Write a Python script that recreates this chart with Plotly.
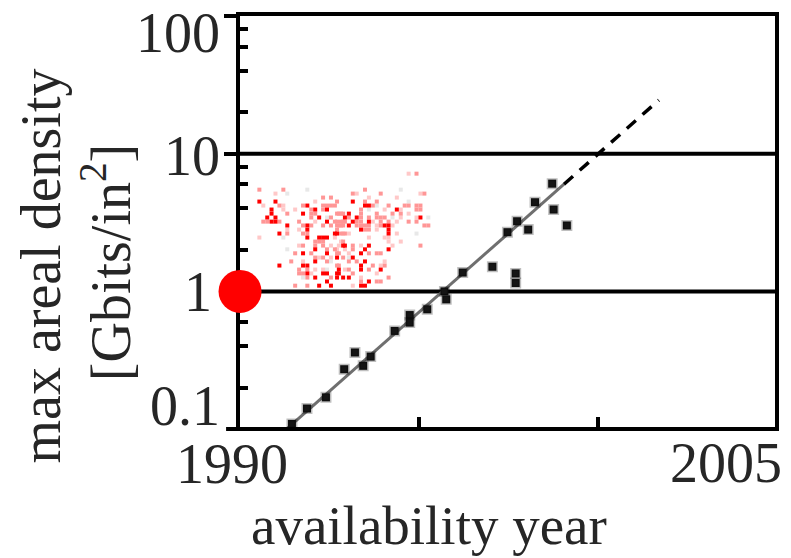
import plotly.graph_objects as go

# ---------------- data ----------------
# black measured points: availability year, max areal density [Gbits/in^2]
pt_years = [1991.45, 1991.87, 1992.40, 1992.91, 1993.21, 1993.44, 1993.65, 1994.32,
            1994.74, 1994.74, 1995.23, 1995.71, 1995.76, 1996.22, 1997.05, 1997.70,
            1997.70, 1997.47, 1997.74, 1998.05, 1998.24, 1998.72, 1998.76, 1999.13]
pt_density = [0.109, 0.141, 0.170, 0.272, 0.36, 0.288, 0.336, 0.516,
              0.673, 0.593, 0.741, 1.0, 0.875, 1.37, 1.51, 1.35,
              1.15, 2.69, 3.23, 2.81, 4.44, 6.06, 3.93, 3.01]

# trend line (solid part) and its extrapolation (dashed part)
trend_years = [1991.30, 1999.05]
trend_density = [0.1, 6.0]
extrap_years = [1999.05, 2001.70]
extrap_density = [6.0, 24.5]

# big red dot
dot_year = [1990.0]
dot_density = [1.0]

# red speckle cloud, by shade: [year, density]
cloud_red = [
    [1990.54, 4.49], [1990.99, 4.49], [1991.88, 4.20], [1990.88, 3.93], [1992.10, 3.93],
    [1992.43, 3.93], [1990.88, 3.67], [1991.76, 3.67], [1990.76, 3.44], [1990.99, 3.44],
    [1992.21, 3.44], [1990.88, 3.21], [1990.99, 3.21], [1992.43, 3.21], [1991.32, 3.01],
    [1991.88, 3.01], [1991.88, 2.81], [1991.10, 2.63], [1992.65, 2.63], [1991.88, 2.46],
    [1992.21, 2.46], [1992.32, 2.46], [1992.43, 2.46], [1992.88, 2.15], [1992.10, 2.02],
    [1991.76, 1.89], [1992.43, 1.89], [1992.10, 1.65], [1991.10, 1.54], [1991.76, 1.54],
    [1991.88, 1.54], [1992.76, 1.44], [1991.88, 1.35], [1992.32, 1.35], [1992.43, 1.35],
    [1992.76, 1.35], [1992.10, 1.26], [1992.88, 1.26], [1992.43, 1.18], [1992.21, 1.10],
    [1992.54, 1.10],
    [1993.15, 4.49], [1993.49, 4.20], [1993.60, 4.20], [1994.38, 3.93], [1993.04, 3.67],
    [1992.93, 3.44], [1993.26, 3.44], [1995.04, 3.44], [1993.15, 3.21], [1993.60, 3.21],
    [1993.04, 3.01], [1994.04, 3.01], [1994.15, 3.01], [1993.38, 2.81], [1994.15, 2.81],
    [1992.71, 2.63], [1994.15, 2.63], [1992.93, 2.15], [1993.60, 2.15], [1993.49, 2.02],
    [1994.15, 2.02], [1993.38, 1.89], [1992.71, 1.76], [1993.15, 1.76], [1993.49, 1.65],
    [1993.38, 1.54], [1993.38, 1.44], [1993.93, 1.44], [1992.71, 1.35], [1992.71, 1.26],
    [1993.04, 1.26], [1993.60, 1.18], [1993.38, 1.10], [1993.49, 1.10],
]
cloud_pink = [
    [1990.54, 5.48], [1991.21, 5.48], [1992.32, 4.80], [1992.54, 4.80], [1991.10, 4.20],
    [1991.76, 4.20], [1992.32, 4.20], [1992.43, 4.20], [1992.54, 4.20], [1992.65, 4.20],
    [1991.99, 3.93], [1992.32, 3.93], [1991.32, 3.67], [1991.99, 3.67], [1992.10, 3.67],
    [1992.76, 3.67], [1992.88, 3.67], [1991.99, 3.44], [1992.54, 3.44], [1990.65, 3.21],
    [1990.76, 3.21], [1991.10, 3.21], [1991.65, 3.21], [1992.65, 3.21], [1992.88, 3.21],
    [1991.76, 3.01], [1991.99, 3.01], [1992.32, 3.01], [1992.54, 3.01], [1992.76, 3.01],
    [1992.88, 3.01], [1991.32, 2.63], [1991.76, 2.63], [1991.88, 2.63], [1992.10, 2.30],
    [1992.21, 2.30], [1992.32, 2.30], [1992.88, 2.30], [1991.76, 2.15], [1992.10, 2.15],
    [1992.32, 2.15], [1992.43, 2.02], [1992.65, 2.02], [1991.54, 1.89], [1991.99, 1.89],
    [1992.76, 1.89], [1992.10, 1.76], [1992.32, 1.76], [1992.88, 1.76], [1991.43, 1.65],
    [1992.43, 1.65], [1992.76, 1.54], [1991.65, 1.44], [1991.88, 1.44], [1991.65, 1.35],
    [1991.76, 1.35], [1991.88, 1.26], [1992.54, 1.26], [1991.54, 1.10], [1991.88, 1.10],
    [1994.93, 7.16], [1993.49, 5.48], [1993.15, 5.13], [1993.93, 5.13], [1995.15, 5.13],
    [1992.71, 4.49], [1993.49, 4.49], [1993.82, 4.49], [1993.71, 4.20], [1994.15, 4.20],
    [1994.60, 4.20], [1994.71, 4.20], [1994.93, 4.20], [1995.04, 4.20], [1993.38, 3.93],
    [1994.93, 3.93], [1995.04, 3.93], [1992.71, 3.67], [1992.82, 3.67], [1993.38, 3.67],
    [1993.82, 3.67], [1994.26, 3.67], [1994.49, 3.67], [1993.04, 3.44], [1993.38, 3.44],
    [1993.60, 3.44], [1993.82, 3.44], [1993.93, 3.44], [1994.04, 3.44], [1992.71, 3.21],
    [1992.82, 3.21], [1992.93, 3.21], [1993.26, 3.21], [1993.38, 3.21], [1993.93, 3.21],
    [1994.15, 3.21], [1994.71, 3.21], [1994.93, 3.21], [1992.71, 3.01], [1992.82, 3.01],
    [1993.26, 3.01], [1993.38, 3.01], [1993.49, 3.01], [1993.60, 3.01], [1993.93, 3.01],
    [1995.15, 3.01], [1995.26, 3.01], [1992.71, 2.81], [1993.49, 2.81], [1993.60, 2.81],
    [1992.82, 2.63], [1992.93, 2.63], [1993.15, 2.15], [1995.04, 2.15], [1993.15, 2.02],
    [1992.71, 1.89], [1993.60, 1.89], [1993.82, 1.89], [1993.93, 1.89], [1993.04, 1.65],
    [1993.26, 1.65], [1992.71, 1.54], [1993.71, 1.54], [1994.04, 1.54], [1993.04, 1.44],
    [1993.60, 1.44], [1993.15, 1.35], [1994.15, 1.26], [1993.38, 1.18], [1993.82, 1.18],
    [1993.93, 1.18],
]
cloud_light = [
    [1990.99, 5.13], [1992.10, 4.49], [1990.65, 4.20], [1991.21, 4.20], [1991.21, 3.93],
    [1991.54, 3.93], [1992.10, 3.21], [1991.32, 2.81], [1991.65, 2.81], [1992.88, 2.63],
    [1990.54, 2.46], [1992.65, 2.46], [1991.65, 2.15], [1992.54, 2.15], [1992.76, 2.15],
    [1992.21, 1.76], [1992.54, 1.76], [1991.76, 1.65], [1992.10, 1.44], [1992.32, 1.44],
    [1991.99, 1.35],
    [1994.71, 7.16], [1993.26, 5.13], [1995.04, 5.13], [1993.60, 4.80], [1994.38, 4.80],
    [1994.04, 3.93], [1994.49, 3.93], [1994.71, 3.67], [1994.49, 3.44], [1994.93, 3.44],
    [1993.71, 3.21], [1994.38, 3.21], [1993.82, 3.01], [1994.26, 3.01], [1993.82, 2.81],
    [1993.04, 2.63], [1994.38, 2.63], [1993.60, 2.46], [1994.04, 2.46], [1994.15, 2.46],
    [1992.82, 2.30], [1994.15, 2.30], [1994.49, 2.30], [1993.38, 2.15], [1994.26, 2.15],
    [1992.71, 2.02], [1992.93, 2.02], [1993.04, 1.89], [1994.04, 1.65], [1993.93, 1.54],
    [1992.93, 1.44], [1993.82, 1.35], [1993.38, 1.26], [1993.15, 1.10],
]
cloud_gray = [
    [1991.32, 5.13], [1991.88, 5.48], [1991.21, 2.46], [1991.32, 2.02], [1992.54, 1.65],
    [1992.43, 1.44], [1991.76, 1.26], [1992.43, 3.44], [1994.49, 5.48], [1994.71, 4.49],
    [1993.82, 4.20], [1993.60, 3.93], [1994.26, 3.44], [1995.26, 3.44], [1994.93, 2.63],
    [1993.04, 1.76],
]

# axis tick values / labels
y_major = [0.1, 1, 10, 100]
y_minor = [0.2, 0.4, 0.6, 0.8, 2, 4, 6, 8, 20, 40, 60, 80]
x_major = [1990, 1995, 2000, 2005]
grid_levels = [1, 10]
y_labels = ["100", "10", "1", "0.1"]
x_labels = ["1990", "2005"]

# ---------------- layout geometry ----------------
W, H = 791, 558
ML, MR, MT, MB = 240, 13, 15, 131
PW, PH = W - ML - MR, H - MT - MB
FONT = "Liberation Serif, Times New Roman, serif"
TXT = "#262626"


def fx(px):
    return (px - ML) / PW


def fy(py):
    return (H - MB - py) / PH


fig = go.Figure()

for pts, col in [(cloud_gray, "#e8e8e8"), (cloud_light, "#ffc8c8"),
                 (cloud_pink, "#ff9696"), (cloud_red, "#ff0000")]:
    fig.add_trace(go.Scatter(
        x=[p[0] for p in pts], y=[p[1] for p in pts], mode="markers",
        marker=dict(symbol="square", size=4, color=col, line=dict(width=0)),
        hoverinfo="skip", showlegend=False))

fig.add_trace(go.Scatter(x=trend_years, y=trend_density, mode="lines",
                         line=dict(color="#6f6f6f", width=3), showlegend=False))
fig.add_trace(go.Scatter(x=extrap_years, y=extrap_density, mode="lines",
                         line=dict(color="black", width=3.5, dash="12px,9px"),
                         showlegend=False))
fig.add_trace(go.Scatter(x=pt_years, y=pt_density, mode="markers",
                         marker=dict(symbol="square", size=8, color="#151515",
                                     line=dict(color="rgba(0,0,0,0.25)", width=3)),
                         showlegend=False))
fig.add_trace(go.Scatter(x=dot_year, y=dot_density, mode="markers", cliponaxis=False,
                         marker=dict(symbol="circle", size=43, color="#ff0000",
                                     line=dict(width=0)),
                         showlegend=False))

shapes = []
for g in grid_levels:
    shapes.append(dict(type="line", xref="paper", yref="y", x0=0, x1=1, y0=g, y1=g,
                       line=dict(color="black", width=4), layer="below"))
# short outside tick at 0.1 (continuation of the bottom line)
shapes.append(dict(type="line", xref="paper", yref="paper", x0=fx(226), x1=fx(240),
                   y0=fy(429), y1=fy(429), line=dict(color="black", width=4)))
fig.update_layout(shapes=shapes)

annotations = []
y_label_pos = {"100": (222, 32), "10": (222, 155), "1": (214, 292), "0.1": (222, 406)}
for lab in y_labels:
    xp, yp = y_label_pos[lab]
    annotations.append(dict(text=lab, x=fx(xp), y=fy(yp), xref="paper", yref="paper",
                            xanchor="right", yanchor="middle", showarrow=False,
                            font=dict(family=FONT, size=56, color=TXT)))
x_label_pos = {"1990": (232, 464), "2005": (729, 463)}
for lab in x_labels:
    xp, yp = x_label_pos[lab]
    annotations.append(dict(text=lab, x=fx(xp), y=fy(yp), xref="paper", yref="paper",
                            xanchor="center", yanchor="middle", showarrow=False,
                            font=dict(family=FONT, size=56, color=TXT)))
annotations.append(dict(text="availability year", x=fx(430), y=fy(526), xref="paper",
                        yref="paper", xanchor="center", yanchor="middle", showarrow=False,
                        font=dict(family=FONT, size=55, color=TXT)))
annotations.append(dict(text="max areal density", x=fx(40), y=fy(266), xref="paper",
                        yref="paper", xanchor="center", yanchor="middle", showarrow=False,
                        textangle=-90, font=dict(family=FONT, size=56, color=TXT)))
annotations.append(dict(text="[Gbits/in<sup>2</sup>]", x=fx(106), y=fy(262), xref="paper",
                        yref="paper", xanchor="center", yanchor="middle", showarrow=False,
                        textangle=-90, font=dict(family=FONT, size=56, color=TXT)))
fig.update_layout(annotations=annotations)

x_end = 1990 + PW / 36.0
fig.update_layout(
    width=W, height=H, margin=dict(l=ML, r=MR, t=MT, b=MB, pad=0),
    paper_bgcolor="white", plot_bgcolor="white", showlegend=False,
    xaxis=dict(range=[1989.999, x_end], tickmode="array", tickvals=x_major,
               showticklabels=False, ticks="inside", ticklen=10, tickwidth=4,
               tickcolor="black", showgrid=False, zeroline=False, showline=True,
               linewidth=4, linecolor="black", mirror=True, layer="below traces"),
    yaxis=dict(type="log", range=[-0.985, 2.0], tickmode="array", tickvals=y_major,
               showticklabels=False, ticks="outside", ticklen=12, tickwidth=4,
               tickcolor="black", showgrid=False, zeroline=False, showline=True,
               linewidth=4, linecolor="black", mirror=True, layer="below traces",
               minor=dict(tickmode="array", tickvals=y_minor, ticks="inside",
                          ticklen=8, tickwidth=4, tickcolor="black", showgrid=False)),
)

fig.write_html("out.html", config={"displayModeBar": False},
               post_script="document.body.style.margin='0px';"
                           "document.body.style.overflow='hidden';")
